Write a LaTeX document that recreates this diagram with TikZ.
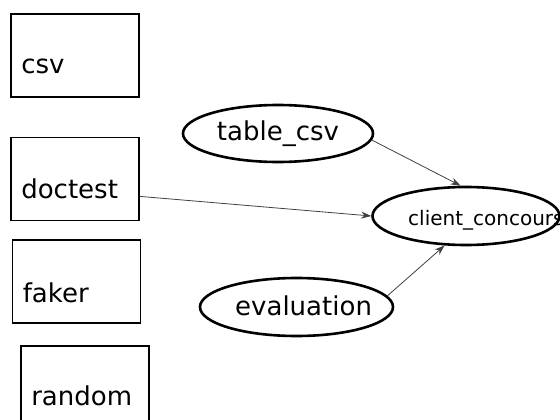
\documentclass[tikz,border=0pt]{standalone}
\usepackage{fontspec}
\setmainfont{DejaVu Sans}
\usepackage{tikz}
\usetikzlibrary{positioning, arrows.meta, shapes.geometric}

\tikzset{
  modbox/.style={draw, line width=1.8pt, minimum width=128pt, minimum height=83pt, inner sep=0pt},
  modlbl/.style={anchor=base west, inner sep=0pt, font=\fontsize{26pt}{30pt}\selectfont},
  modell/.style={draw, ellipse, line width=2.6pt, inner sep=0pt},
  deparr/.style={-{Stealth[length=10pt, width=7pt]}, line width=0.8pt, black!75},
}

\begin{document}
\begin{tikzpicture}[x=1pt, y=-1pt]
  \path[use as bounding box, clip] (0,0) rectangle (560,420);

  % ── Imported modules ──
  \node[modbox] (csv)     at (75,55.5)  {};
  \node[modbox] (doctest) at (75,179)   {};
  \node[modbox] (faker)   at (76.5,281.5) {};
  \node[modbox] (random)  at (85,387.5) {};
  \node[modlbl] (csvlbl)     at ([shift={(11,-24)}]csv.south west)     {csv};
  \node[modlbl] (doctestlbl) at ([shift={(11,-23)}]doctest.south west) {doctest};
  \node[modlbl] (fakerlbl)   at ([shift={(11,-21)}]faker.south west)   {faker};
  \node[modlbl] (randomlbl)  at ([shift={(11,-24)}]random.south west)  {random};

  % ── Local modules ──
  \node[modell, minimum width=190pt, minimum height=57pt,
        font=\fontsize{26pt}{30pt}\selectfont] (tablecsv) at (278,133.5) {table\_csv};
  \node[modell, minimum width=193pt, minimum height=58pt] (evaluation) at (296.5,307) {};
  \node[modlbl] (evaluationlbl) at (235,315) {evaluation};
  \node[modell, minimum width=187pt, minimum height=58pt] (client) at (466,216) {};
  \node[modlbl, font=\fontsize{20pt}{24pt}\selectfont] (clientlbl) at (408,225) {client\_concours};

  % Dependencies
  \draw[deparr] (tablecsv.-4) -- (client.100);
  \draw[deparr] (doctest.-15) -- (client.west);
  \draw[deparr] (evaluation.7) -- (client.234);
\end{tikzpicture}
\end{document}
